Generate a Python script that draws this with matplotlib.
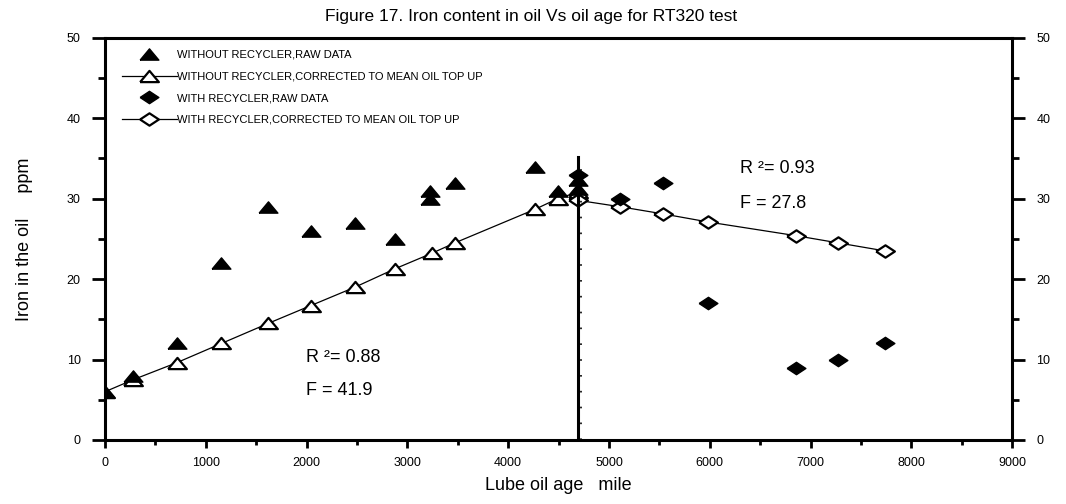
import matplotlib
matplotlib.use("Agg")
import matplotlib.pyplot as plt
import matplotlib.transforms as mtransforms
from matplotlib.ticker import MultipleLocator

plt.rcParams["font.family"] = ["Liberation Sans", "DejaVu Sans"]

# --- data ------------------------------------------------------------------
# without recycler, raw data (filled triangles)
wo_raw_x = [0, 280, 710, 1155, 1620, 2040, 2480, 2880, 3220, 3220, 3470, 4270, 4490, 4690, 4690]
wo_raw_y = [6, 8, 12, 22, 29, 26, 27, 25, 31, 30, 32, 34, 31, 32.3, 31.2]

# without recycler, corrected to mean oil top up (open triangles)
wo_cor_x = [0, 280, 710, 1155, 1620, 2040, 2480, 2880, 3240, 3470, 4270, 4490, 4690]
wo_cor_y = [6, 7.5, 9.6, 12, 14.5, 16.7, 19, 21.3, 23.2, 24.5, 28.7, 30, 30.8]

# with recycler, raw data (filled diamonds)
w_raw_x = [4690, 5110, 5540, 5985, 6855, 7275, 7740]
w_raw_y = [33, 30, 32, 17, 9, 10, 12]

# with recycler, corrected to mean oil top up (open diamonds)
w_cor_x = [4690, 5110, 5540, 5985, 6855, 7275, 7740]
w_cor_y = [29.8, 29, 28.1, 27.1, 25.4, 24.5, 23.5]

switch_x = 4690      # recycler fitted
switch_top = 35.2

labels = ["WITHOUT RECYCLER,RAW DATA",
          "WITHOUT RECYCLER,CORRECTED TO MEAN OIL TOP UP",
          "WITH RECYCLER,RAW DATA",
          "WITH RECYCLER,CORRECTED TO MEAN OIL TOP UP"]

fit_text = [(1990, 10.3, "R ²= 0.88"), (1990, 6.2, "F = 41.9"),
            (6300, 33.8, "R ²= 0.93"), (6300, 29.4, "F = 27.8")]

# flattened marker shapes, as in the original plot
TRI = [(-1, -0.6), (1, -0.6), (0, 0.6), (-1, -0.6)]
DIA = [(-1, 0), (0, 0.66), (1, 0), (0, -0.66), (-1, 0)]

fig = plt.figure(figsize=(10.66, 5.04), dpi=100)
ax = fig.add_axes([0.0985, 0.127, 0.851, 0.798])

ax.plot(wo_raw_x, wo_raw_y, ls="none", marker=TRI, ms=13.5, color="k",
        mec="k", label=labels[0], zorder=4)
ax.plot(wo_cor_x, wo_cor_y, ls="-", lw=0.9, color="k", marker=TRI, ms=13.5,
        mfc="white", mec="k", mew=1.6, label=labels[1], zorder=3)
ax.plot(w_raw_x, w_raw_y, ls="none", marker=DIA, ms=13.5, color="k",
        mec="k", label=labels[2], zorder=4)
ax.plot(w_cor_x, w_cor_y, ls="-", lw=0.9, color="k", marker=DIA, ms=13.5,
        mfc="white", mec="k", mew=1.6, label=labels[3], zorder=3)

# vertical marker line where the recycler was fitted, with small ticks
ax.plot([switch_x, switch_x], [0, switch_top], color="k", lw=2.2, zorder=5)
off = mtransforms.offset_copy(ax.transData, fig=fig, x=2.0, y=0, units="points")
ax.plot([switch_x, switch_x], [0, switch_top - 0.6], color="k", lw=1.2,
        ls=(0, (1, 8.5)), transform=off, zorder=5)

for x, y, s in fit_text:
    ax.text(x, y, s, fontsize=13, va="center", ha="left")

leg = ax.legend(loc="upper left", bbox_to_anchor=(0.019, 0.97), frameon=False,
                fontsize=8, handlelength=4.9, handletextpad=0.05,
                labelspacing=1.05, borderaxespad=0, borderpad=0)

ax.set_xlim(0, 9000)
ax.set_ylim(0, 50)
ax.xaxis.set_major_locator(MultipleLocator(1000))
ax.xaxis.set_minor_locator(MultipleLocator(500))
ax.yaxis.set_major_locator(MultipleLocator(10))
ax.yaxis.set_minor_locator(MultipleLocator(5))

for sp in ax.spines.values():
    sp.set_linewidth(2.2)

ax.tick_params(axis="y", which="major", direction="out", length=9.5, width=2,
               left=True, right=True, labelleft=True, labelright=True,
               labelsize=9, pad=8)
ax.tick_params(axis="y", which="minor", direction="out", length=5, width=2,
               left=True, right=True)
ax.tick_params(axis="x", which="major", direction="out", length=6, width=2,
               top=False, labelsize=9, pad=6)
ax.tick_params(axis="x", which="minor", direction="out", length=3.5, width=2,
               top=False)

ax.set_xlabel("Lube oil age   mile", fontsize=13, labelpad=6)
ax.set_ylabel("Iron in the oil     ppm", fontsize=13, labelpad=24)
fig.text(0.498, 0.968, "Figure 17. Iron content in oil Vs oil age for RT320 test",
         ha="center", va="center", fontsize=12.5)

fig.savefig("out.png", dpi=100)
